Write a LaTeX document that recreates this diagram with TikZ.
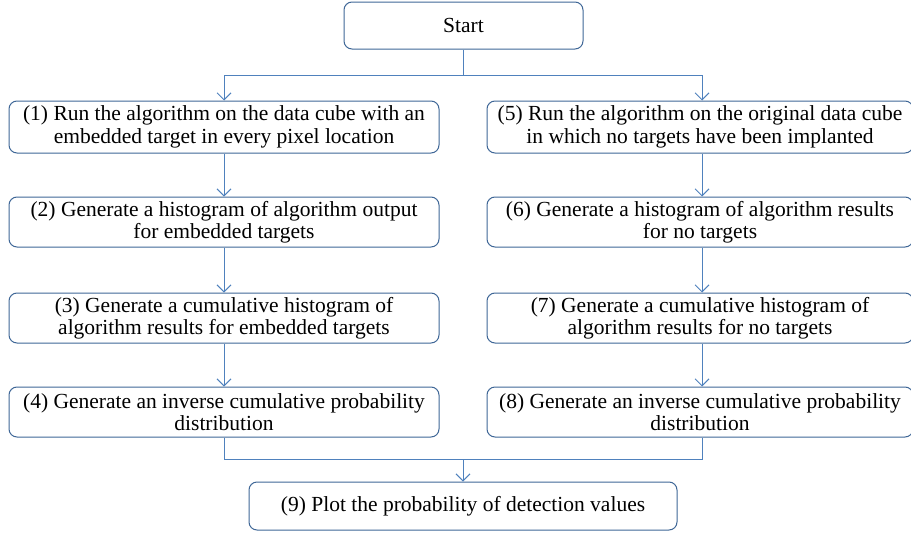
\documentclass[tikz,border=0pt]{standalone}
\usepackage{fontspec}
\setmainfont{Liberation Serif}
\usetikzlibrary{arrows.meta}
\definecolor{boxline}{HTML}{3F6797}
\definecolor{linkline}{HTML}{4F81BD}
\tikzset{
  stepbox/.style={draw=boxline, line width=1pt, rounded corners=8pt, fill=white,
    align=center, inner sep=0pt, font=\fontsize{21.5}{22.5}\selectfont},
  link/.style={draw=linkline, line width=1pt},
  arr/.style={link, -{Straight Barb[length=7pt,width=14pt]}},
}
\begin{document}
\begin{tikzpicture}[x=1pt, y=-1pt]
\useasboundingbox (0,0) rectangle (911,533);

% start box
\node[stepbox, minimum width=239pt, minimum height=47pt] (start) at (463.5,25.5) {Start};

% left column
\node[stepbox, minimum width=430pt, minimum height=52pt] (s1) at (224,127)
  {(1) Run the algorithm on the data cube with an\\embedded target in every pixel location};
\node[stepbox, minimum width=430pt, minimum height=50pt] (s2) at (224,222)
  {(2) Generate a histogram of algorithm output\\for embedded targets};
\node[stepbox, minimum width=430pt, minimum height=50pt] (s3) at (224,318)
  {(3) Generate a cumulative histogram of\\algorithm results for embedded targets};
\node[stepbox, minimum width=430pt, minimum height=50pt] (s4) at (224,412)
  {(4) Generate an inverse cumulative probability\\distribution};

% right column
\node[stepbox, minimum width=426pt, minimum height=52pt] (s5) at (700,127)
  {(5) Run the algorithm on the original data cube\\in which no targets have been implanted};
\node[stepbox, minimum width=426pt, minimum height=50pt] (s6) at (700,222)
  {(6) Generate a histogram of algorithm results\\for no targets};
\node[stepbox, minimum width=426pt, minimum height=50pt] (s7) at (700,318)
  {(7) Generate a cumulative histogram of\\algorithm results for no targets};
\node[stepbox, minimum width=426pt, minimum height=50pt] (s8) at (700,412)
  {(8) Generate an inverse cumulative probability\\distribution};

% final box
\node[stepbox, minimum width=428pt, minimum height=48pt] (s9) at (463,506)
  {(9) Plot the probability of detection values};

% split from start
\coordinate (busT) at (463.5,75.5);
\coordinate (busTL) at (224,75.5);
\coordinate (busTR) at (702,75.5);
\draw[link] (start.south) -- (busT);
\draw[arr] (busT) -- (busTL) -- (busTL |- s1.north);
\draw[arr] (busT) -- (busTR) -- (busTR |- s5.north);

% column arrows
\draw[arr] (s1.south -| busTL) -- (s2.north -| busTL);
\draw[arr] (s2.south -| busTL) -- (s3.north -| busTL);
\draw[arr] (s3.south -| busTL) -- (s4.north -| busTL);
\draw[arr] (s5.south -| busTR) -- (s6.north -| busTR);
\draw[arr] (s6.south -| busTR) -- (s7.north -| busTR);
\draw[arr] (s7.south -| busTR) -- (s8.north -| busTR);

% merge into final box
\coordinate (busB) at (463,459);
\draw[link] (s4.south -| busTL) |- (busB);
\draw[link] (s8.south -| busTR) |- (busB);
\draw[arr] (busB) -- (s9.north);
\end{tikzpicture}
\end{document}
